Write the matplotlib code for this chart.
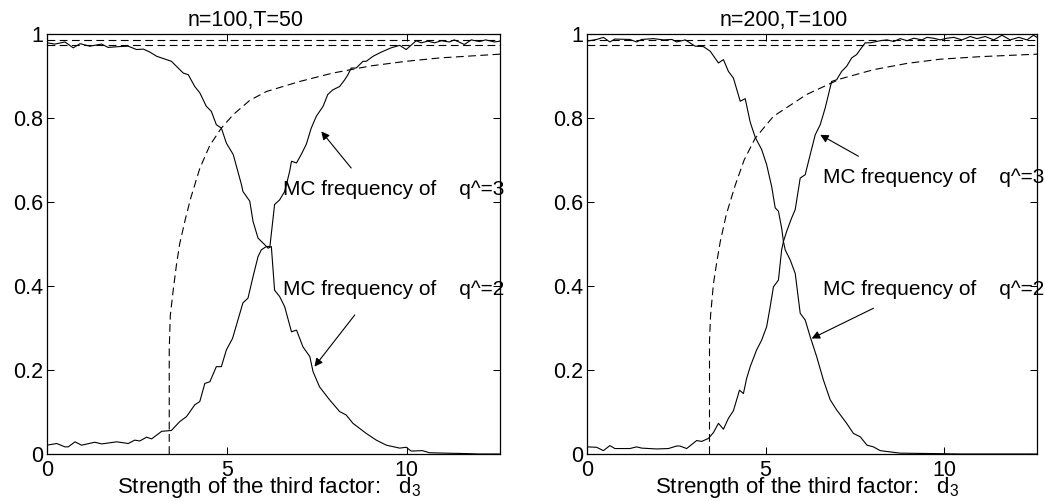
import matplotlib
matplotlib.use("Agg")
import matplotlib.pyplot as plt
import numpy as np

plt.rcParams['font.family'] = ['Liberation Sans', 'DejaVu Sans']
plt.rcParams['mathtext.fontset'] = 'custom'
plt.rcParams['mathtext.rm'] = 'Liberation Sans'

titles = ['n=100,T=50', 'n=200,T=100']
xlabel = r'Strength of the third factor:   $\mathregular{d_3}$'
label3 = 'MC frequency of    q^=3'
label2 = 'MC frequency of    q^=2'
bands = [0.975, 0.985]
yticks = [0, 0.2, 0.4, 0.6, 0.8, 1]
yticklabels = ['0', '0.2', '0.4', '0.6', '0.8', '1']
xticks = [0, 5, 10]

# n=100, T=50
left_q2_d = [0, 0.22, 0.5, 0.73, 0.92, 1.19, 1.52, 1.70, 2.0, 2.26,
             2.49, 2.68, 2.86, 3.05, 3.46, 3.79, 3.93, 4.11, 4.25, 4.43,
             4.57, 4.71, 4.85, 4.99, 5.18, 5.41, 5.45, 5.64, 5.73, 5.87,
             6.06, 6.15, 6.24, 6.33, 6.47, 6.61, 6.80, 6.94, 7.12, 7.31,
             7.40, 7.58, 7.86, 8.14, 8.32, 8.51, 8.88, 9.16, 9.44, 9.81,
             9.99, 10.13, 10.44, 10.64, 11.1, 11.66, 12.0, 12.6]
left_q2 = [0.979, 0.976, 0.981, 0.967, 0.977, 0.971, 0.976, 0.968, 0.970, 0.971,
           0.963, 0.964, 0.957, 0.947, 0.935, 0.907, 0.903, 0.875, 0.860, 0.828,
           0.816, 0.784, 0.776, 0.740, 0.713, 0.641, 0.625, 0.602, 0.554, 0.514,
           0.498, 0.49, 0.494, 0.390, 0.375, 0.351, 0.291, 0.295, 0.255, 0.232,
           0.196, 0.160, 0.129, 0.101, 0.093, 0.073, 0.049, 0.033, 0.021, 0.014,
           0.016, 0.007, 0.008, 0.003, 0.002, 0.001, 0.0, 0.0]
left_q3_d = [0, 0.27, 0.5, 0.59, 0.78, 0.96, 1.33, 1.52, 1.94, 2.26,
             2.44, 2.58, 2.77, 2.91, 3.19, 3.46, 3.69, 3.88, 4.11, 4.25,
             4.39, 4.53, 4.71, 4.85, 4.99, 5.16, 5.45, 5.59, 5.73, 5.87,
             5.96, 6.10, 6.20, 6.33, 6.47, 6.61, 6.75, 6.80, 6.94, 7.07,
             7.21, 7.35, 7.49, 7.68, 7.81, 7.95, 8.14, 8.28, 8.37, 8.46,
             8.6, 8.79, 8.88, 9.07, 9.30, 9.57, 9.81, 9.99, 10.27, 10.41,
             10.59, 10.78, 10.97, 11.19, 11.33, 11.61, 11.8, 12.03, 12.2, 12.45,
             12.6]
left_q3 = [0.021, 0.025, 0.017, 0.017, 0.029, 0.021, 0.028, 0.024, 0.029, 0.025,
           0.033, 0.031, 0.040, 0.036, 0.054, 0.056, 0.077, 0.089, 0.117, 0.125,
           0.168, 0.172, 0.208, 0.208, 0.248, 0.275, 0.360, 0.371, 0.422, 0.470,
           0.486, 0.494, 0.494, 0.594, 0.605, 0.625, 0.673, 0.697, 0.693, 0.713,
           0.737, 0.776, 0.804, 0.828, 0.856, 0.867, 0.875, 0.891, 0.903, 0.919,
           0.919, 0.935, 0.935, 0.947, 0.957, 0.967, 0.973, 0.963, 0.984, 0.979,
           0.983, 0.979, 0.984, 0.981, 0.986, 0.975, 0.986, 0.982, 0.986, 0.981,
           0.983]
left_dash_d = [3.40, 3.40, 3.43, 3.51, 3.60, 3.69, 3.85, 4.00, 4.25, 4.53,
               4.85, 5.18, 5.64, 6.10, 7.03, 7.95, 9.0, 9.99, 10.92, 12.6]
left_dash = [0.0, 0.25, 0.33, 0.39, 0.45, 0.50, 0.56, 0.61, 0.68, 0.735,
             0.776, 0.808, 0.842, 0.863, 0.887, 0.907, 0.924, 0.935, 0.943, 0.952]

# n=200, T=100
right_q2_d = [0, 0.27, 0.46, 0.64, 0.78, 1.2, 1.39, 1.53, 1.86, 2.14,
              2.38, 2.51, 2.75, 3.03, 3.26, 3.45, 3.68, 3.82, 3.96, 4.10,
              4.29, 4.43, 4.57, 4.71, 4.89, 5.03, 5.17, 5.27, 5.36, 5.45,
              5.50, 5.55, 5.69, 5.83, 5.97, 6.11, 6.25, 6.43, 6.62, 6.81,
              6.99, 7.27, 7.46, 7.65, 7.84, 8.02, 8.21, 8.49, 8.77, 9.7,
              10.5, 12.6]
right_q2 = [0.983, 0.987, 0.992, 0.981, 0.988, 0.987, 0.981, 0.987, 0.989, 0.986,
            0.987, 0.981, 0.986, 0.971, 0.970, 0.959, 0.931, 0.939, 0.911, 0.895,
            0.840, 0.846, 0.790, 0.754, 0.725, 0.689, 0.637, 0.586, 0.578, 0.538,
            0.506, 0.486, 0.462, 0.430, 0.335, 0.319, 0.279, 0.232, 0.176, 0.129,
            0.105, 0.073, 0.049, 0.041, 0.021, 0.017, 0.008, 0.005, 0.002, 0.001,
            0.0, 0.0]
right_q3_d = [0, 0.27, 0.46, 0.64, 0.78, 1.2, 1.39, 1.53, 1.95, 2.28,
              2.51, 2.6, 2.79, 3.07, 3.21, 3.40, 3.54, 3.68, 3.82, 3.96,
              4.10, 4.27, 4.38, 4.47, 4.57, 4.75, 4.89, 5.03, 5.13, 5.22,
              5.36, 5.45, 5.50, 5.59, 5.73, 5.83, 5.97, 6.11, 6.25, 6.39,
              6.53, 6.67, 6.85, 6.99, 7.13, 7.27, 7.41, 7.55, 7.65, 7.79,
              7.93, 8.21, 8.4, 8.59, 8.77, 8.96, 9.15, 9.38, 9.52, 9.7,
              9.89, 10.08, 10.27, 10.5, 10.73, 10.92, 11.15, 11.39, 11.62, 11.85,
              12.09, 12.32, 12.5, 12.6]
right_q3 = [0.017, 0.016, 0.008, 0.020, 0.013, 0.013, 0.017, 0.014, 0.012, 0.013,
            0.019, 0.019, 0.013, 0.032, 0.030, 0.037, 0.051, 0.073, 0.059, 0.085,
            0.103, 0.152, 0.144, 0.180, 0.208, 0.248, 0.271, 0.303, 0.351, 0.398,
            0.414, 0.486, 0.506, 0.530, 0.562, 0.582, 0.657, 0.665, 0.713, 0.760,
            0.784, 0.824, 0.887, 0.891, 0.911, 0.923, 0.943, 0.951, 0.963, 0.979,
            0.979, 0.984, 0.986, 0.982, 0.989, 0.984, 0.990, 0.986, 0.992, 0.990,
            0.986, 0.990, 0.992, 0.986, 0.994, 0.989, 0.994, 0.986, 0.997, 0.986,
            0.992, 0.986, 0.997, 0.992]
right_dash_d = [3.43, 3.43, 3.46, 3.54, 3.63, 3.73, 3.9, 4.15, 4.40, 4.71,
                5.22, 6.15, 7.09, 8.02, 8.96, 9.89, 11.0, 12.6]
right_dash = [0.0, 0.27, 0.33, 0.405, 0.455, 0.505, 0.57, 0.64, 0.70, 0.752,
              0.804, 0.856, 0.893, 0.915, 0.930, 0.940, 0.946, 0.952]

# annotation anchors: (text, text x, text y, arrow tail, arrow head)
left_notes = [(label3, 6.56, 0.617, (8.46, 0.681), (7.63, 0.768)),
              (label2, 6.56, 0.379, (8.56, 0.331), (7.44, 0.208))]
right_notes = [(label3, 6.61, 0.646, (7.60, 0.709), (6.53, 0.760)),
               (label2, 6.61, 0.379, (8.02, 0.347), (6.29, 0.275))]

fig = plt.figure(figsize=(10.45, 5.01), dpi=100)
ax1 = fig.add_axes([47 / 1045, 47 / 501, 453 / 1045, 420 / 501])
ax2 = fig.add_axes([587 / 1045, 47 / 501, 450 / 1045, 420 / 501])

panels = [
    (ax1, titles[0], left_q2_d, left_q2, left_q3_d, left_q3, left_dash_d, left_dash, left_notes),
    (ax2, titles[1], right_q2_d, right_q2, right_q3_d, right_q3, right_dash_d, right_dash, right_notes),
]

for ax, title, q2d, q2, q3d, q3, dd, dv, notes in panels:
    ax.plot(q2d, q2, color='k', lw=0.8)
    ax.plot(q3d, q3, color='k', lw=0.8)
    ax.plot(dd, dv, color='k', lw=0.8, dashes=(7, 4))
    for b in bands:
        ax.axhline(b, color='k', lw=0.8, dashes=(7, 4))
    for txt, tx, ty, tail, head in notes:
        ax.text(tx, ty, txt, fontsize=15, ha='left', va='baseline', clip_on=False)
        ax.annotate('', xy=head, xytext=tail,
                    arrowprops=dict(arrowstyle='-|>', color='k', lw=0.8,
                                    mutation_scale=12, shrinkA=0, shrinkB=0))
    ax.set_xlim(0, 12.6)
    ax.set_ylim(0, 1)
    ax.set_xticks(xticks)
    ax.set_xticklabels([str(t) for t in xticks])
    ax.set_yticks(yticks)
    ax.set_yticklabels(yticklabels)
    ax.tick_params(direction='in', top=True, right=True, length=5, width=0.75,
                   labelsize=15.5)
    ax.tick_params(axis='y', pad=3)
    ax.tick_params(axis='x', pad=4)
    for s in ax.spines.values():
        s.set_linewidth(0.9)
    ax.text(0.438, 1.019, title, transform=ax.transAxes, ha='center',
            va='baseline', fontsize=15.5)
    ax.text(0.49, -0.093, xlabel, transform=ax.transAxes, ha='center',
            va='baseline', fontsize=16)

fig.savefig('out.png', dpi=100)
